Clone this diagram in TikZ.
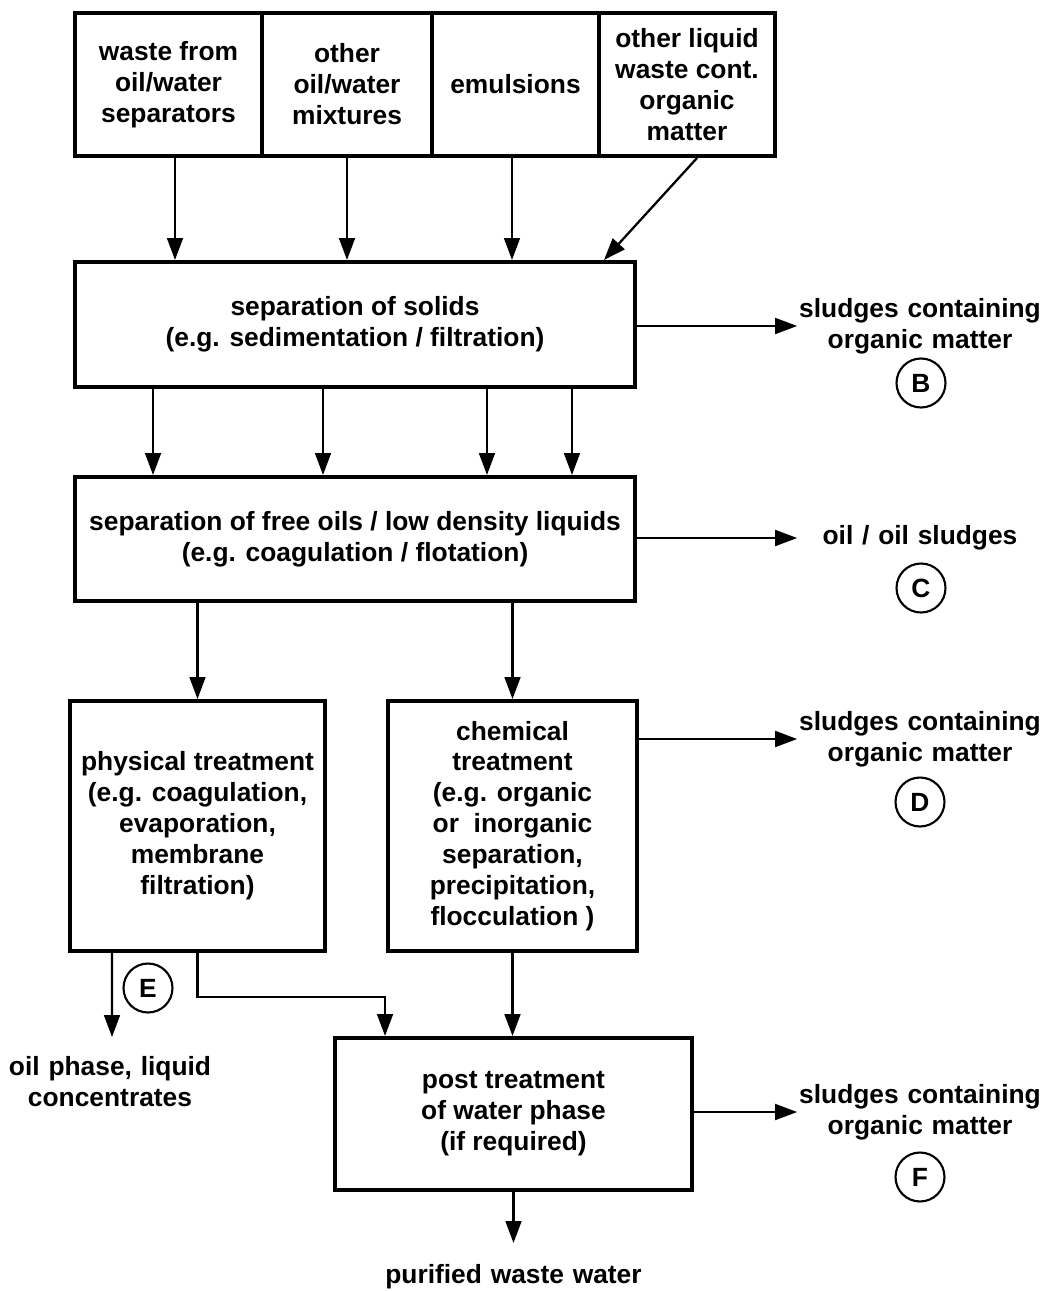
\documentclass[tikz,border=0pt]{standalone}
\usepackage{fontspec}
\setmainfont{Liberation Sans}
\usetikzlibrary{arrows.meta}

\begin{document}
\begin{tikzpicture}[x=0.02cm,y=-0.02cm,
    font=\bfseries\fontsize{15pt}{17.6pt}\selectfont,
    box/.style={draw, line width=2.3pt, align=center, inner sep=0pt},
    lbl/.style={text width=4.9cm, align=center, inner sep=0pt},
    letter/.style={draw, circle, line width=1.2pt, minimum size=0.98cm, inner sep=0pt},
    arr/.style={line width=1.3pt, -{Triangle[length=12.5pt,width=9pt]}}]

    \useasboundingbox (0,0) rectangle (1045,1291);

    % Input streams
    \node[box, minimum width=3.74cm, minimum height=2.86cm] (in1) at (168.5,84.5) {waste from\\oil/water\\separators};
    \node[box, minimum width=3.40cm, minimum height=2.86cm] (in2) at (347,84.5) {other\\oil/water\\mixtures};
    \node[box, minimum width=3.34cm, minimum height=2.86cm] (in3) at (515.5,84.5) {emulsions};
    \node[box, minimum width=3.52cm, minimum height=2.86cm] (in4) at (687,84.5) {other liquid\\waste cont.\\organic\\matter};

    % Treatment steps
    \node[box, minimum width=11.2cm, minimum height=2.5cm] (solids) at (355,324.5) {separation of solids\\(e.g. sedimentation / filtration)};
    \node[box, minimum width=11.2cm, minimum height=2.48cm] (freeoil) at (355,539) {separation of free oils / low density liquids\\(e.g. coagulation / flotation)};
    \node[box, minimum width=5.1cm, minimum height=5cm] (physical) at (197.5,826) {physical treatment\\(e.g. coagulation,\\evaporation,\\membrane\\filtration)};
    \node[box, minimum width=4.98cm, minimum height=5cm] (chemical) at (512.5,826) {chemical\\treatment\\(e.g. organic\\or~ inorganic\\separation,\\precipitation,\\flocculation )};
    \node[box, minimum width=7.14cm, minimum height=3.04cm] (post) at (513.5,1114) {post treatment\\of water phase\\(if required)};

    % Outputs
    \node[lbl] (sludB) at (920,326) {sludges containing\\organic matter};
    \node[lbl] (oilC) at (920,538) {oil / oil sludges};
    \node[lbl] (sludD) at (920,739) {sludges containing\\organic matter};
    \node[lbl] (sludF) at (920,1112) {sludges containing\\organic matter};
    \node[lbl, text width=4.2cm] (oilE) at (110,1082) {oil phase, liquid\\concentrates};
    \node[lbl, text width=6cm] (water) at (513.5,1277) {purified waste water};

    \node[letter] (B) at (921,383) {B};
    \node[letter] (C) at (921,588) {C};
    \node[letter] (D) at (920,802) {D};
    \node[letter] (E) at (148,988) {E};
    \node[letter] (F) at (920,1177) {F};

    \coordinate (eend) at (112,1037);
    \coordinate (wend) at (513.5,1243);

    % Arrows
    \draw[arr] ([xshift=0.13cm]in1.south) -- ([xshift=0.13cm]in1.south |- solids.north);
    \draw[arr] (in2.south) -- (in2.south |- solids.north);
    \draw[arr] ([xshift=-0.07cm]in3.south) -- ([xshift=-0.07cm]in3.south |- solids.north);
    \draw[arr] ([xshift=0.2cm]in4.south) -- ([xshift=-0.66cm]solids.north east);

    \foreach \dx in {-4.04,-0.64,2.64,4.34}
        \draw[arr] ([xshift=\dx cm]solids.south) -- ([xshift=\dx cm]freeoil.north);

    \draw[arr] (freeoil.south -| physical.north) -- (physical.north);
    \draw[arr] (freeoil.south -| chemical.north) -- (chemical.north);

    \draw[arr] ([xshift=-1.71cm]physical.south) -- (eend);
    \draw[arr] (physical.south) -- ++(0,44) -| ([xshift=-2.57cm]post.north);
    \draw[arr] (chemical.south) -- (chemical.south |- post.north);
    \draw[arr] (post.south) -- (wend);

    % Side streams
    \draw[arr] (sludB.west -| solids.east) -- (sludB.west);
    \draw[arr] (oilC.west -| freeoil.east) -- (oilC.west);
    \draw[arr] (sludD.west -| chemical.east) -- (sludD.west);
    \draw[arr] (sludF.west -| post.east) -- (sludF.west);
\end{tikzpicture}
\end{document}
